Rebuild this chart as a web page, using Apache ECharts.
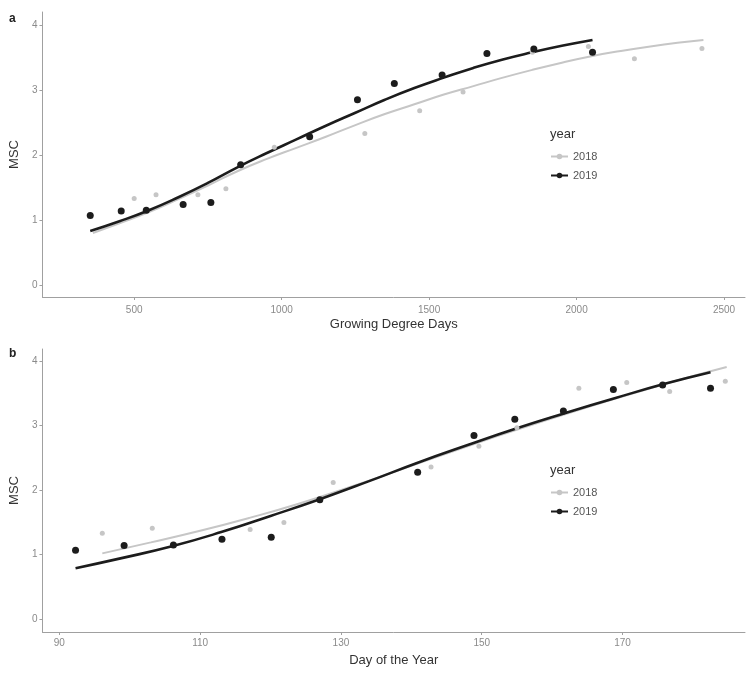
<!DOCTYPE html>
<html>
<head>
<meta charset="utf-8">
<script src="https://cdn.jsdelivr.net/npm/echarts@6/dist/echarts.min.js"></script>
<style>
  html, body { margin: 0; padding: 0; background: #fff; }
  #chart { width: 749px; height: 673px; }
</style>
</head>
<body>
<div id="chart"></div>
<script>
// ---------- Data ----------
const seriesNames = ['2018', '2019'];

// Panel a: Growing Degree Days
const gddPts2018 = [500, 574, 716, 811, 975, 1282, 1468, 1615, 1850, 2040, 2196, 2425];
const mscPts2018a = [1.33, 1.39, 1.39, 1.48, 2.12, 2.33, 2.68, 2.97, 3.58, 3.67, 3.48, 3.64];
const gddPts2019 = [351, 456, 541, 666, 760, 861, 1095, 1257, 1382, 1544, 1696, 1855, 2054];
const mscPts2019 = [1.07, 1.14, 1.15, 1.24, 1.27, 1.85, 2.28, 2.85, 3.10, 3.23, 3.56, 3.63, 3.58];

const gddFit2018 = [360, 450, 550, 650, 750, 850, 950, 1050, 1150, 1250, 1350, 1450, 1550, 1650, 1750, 1850, 1950, 2050, 2150, 2250, 2350, 2430];
const mscFit2018a = [0.80, 0.95, 1.12, 1.32, 1.53, 1.75, 1.94, 2.11, 2.28, 2.46, 2.63, 2.78, 2.93, 3.06, 3.19, 3.31, 3.42, 3.52, 3.60, 3.67, 3.73, 3.77];
const gddFit2019 = [351, 450, 550, 650, 750, 850, 950, 1050, 1150, 1250, 1350, 1450, 1550, 1650, 1750, 1850, 1950, 2054];
const mscFit2019a = [0.83, 0.98, 1.15, 1.35, 1.57, 1.81, 2.03, 2.24, 2.45, 2.65, 2.85, 3.03, 3.19, 3.34, 3.47, 3.58, 3.68, 3.77];

// Panel b: Day of the Year
const doyPts2018 = [96.1, 103.2, 117.1, 121.9, 128.9, 142.8, 149.6, 155.0, 163.8, 170.6, 176.7, 184.6];
const mscPts2018b = [1.33, 1.41, 1.39, 1.50, 2.12, 2.36, 2.68, 2.97, 3.58, 3.67, 3.53, 3.69];
const doyPts2019 = [92.3, 99.2, 106.2, 113.1, 120.1, 127.0, 140.9, 148.9, 154.7, 161.6, 168.7, 175.7, 182.5];

const doyFit2018 = [96.1, 103, 110, 117, 124, 131, 138, 145, 152, 159, 166, 173, 179, 184.8];
const mscFit2018b = [1.02, 1.19, 1.37, 1.57, 1.79, 2.04, 2.30, 2.57, 2.83, 3.08, 3.32, 3.55, 3.74, 3.91];
const doyFit2019 = [92.3, 99, 106, 113, 120, 127, 134, 141, 148, 155, 162, 169, 176, 182.5];
const mscFit2019b = [0.79, 0.95, 1.13, 1.35, 1.60, 1.86, 2.14, 2.43, 2.70, 2.96, 3.20, 3.43, 3.65, 3.83];

// Tick labels
const yTicks = [0, 1, 2, 3, 4];
const gddTicks = [500, 1000, 1500, 2000, 2500];
const doyTicks = [90, 110, 130, 150, 170];

// ---------- Helpers ----------
const zip = (xs, ys) => xs.map((x, i) => [x, ys[i]]);
const C2018 = '#c6c6c6';
const C2019 = '#1c1c1c';
const axisColor = '#a0a0a0';
const labelColor = '#8a8a8a';
const FONT = 'Liberation Sans, Arial, sans-serif';

function xAxisCfg(gridIndex, min, max, ticks, name, nameGap, labelMargin) {
  return {
    type: 'value', gridIndex, min, max,
    name, nameLocation: 'middle', nameGap,
    nameTextStyle: { fontFamily: FONT, fontSize: 13, color: '#333' },
    axisLine: { show: true, onZero: false, lineStyle: { color: axisColor, width: 1 } },
    axisTick: { show: true, length: 3, lineStyle: { color: axisColor }, customValues: ticks },
    axisLabel: { customValues: ticks, color: labelColor, fontSize: 10, margin: labelMargin,
                 fontFamily: FONT, formatter: v => String(v) },
    splitLine: { show: false }
  };
}
function yAxisCfg(gridIndex, min, max) {
  return {
    type: 'value', gridIndex, min, max,
    name: 'MSC', nameLocation: 'middle', nameGap: 12, nameRotate: 90,
    nameTextStyle: { fontFamily: FONT, fontSize: 13, color: '#333' },
    axisLine: { show: true, onZero: false, lineStyle: { color: axisColor, width: 1 } },
    axisTick: { show: true, length: 3, lineStyle: { color: axisColor }, customValues: yTicks },
    axisLabel: { customValues: yTicks, color: labelColor, fontSize: 10, margin: 5,
                 fontFamily: FONT, formatter: v => String(v) },
    splitLine: { show: false }
  };
}
function fitLine(name, data, xi, color, width, z, symSize) {
  return {
    type: 'line', name, data, xAxisIndex: xi, yAxisIndex: xi,
    smooth: 0.5, symbol: 'circle', symbolSize: symSize, showSymbol: false,
    lineStyle: { color, width }, itemStyle: { color }, z, silent: true
  };
}
function pts(name, data, xi, color, size, z) {
  return {
    type: 'scatter', name, data, xAxisIndex: xi, yAxisIndex: xi,
    symbol: 'circle', symbolSize: size, itemStyle: { color, opacity: 1 }, z, silent: true
  };
}
function legendCfg(top) {
  return {
    data: seriesNames, orient: 'vertical', left: 545, top,
    itemWidth: 17, itemHeight: 7, itemGap: 8, selectedMode: false,
    textStyle: { fontFamily: FONT, fontSize: 11, color: '#555' }
  };
}

const chart = echarts.init(document.getElementById('chart'), null, { renderer: 'canvas' });
chart.setOption({
  animation: false,
  backgroundColor: '#ffffff',
  grid: [
    { left: 41, top: 12, width: 704, height: 285 },
    { left: 41, top: 349, width: 704, height: 283 }
  ],
  xAxis: [
    xAxisCfg(0, 189, 2571, gddTicks, 'Growing Degree Days', 21, 8),
    xAxisCfg(1, 87.6, 187.4, doyTicks, 'Day of the Year', 22, 6)
  ],
  yAxis: [
    yAxisCfg(0, -0.185, 4.2),
    yAxisCfg(1, -0.2, 4.19)
  ],
  legend: [legendCfg(146), legendCfg(482)],
  graphic: [
    { type: 'text', left: 9, top: 13, style: { text: 'a', font: 'bold 12px ' + FONT, fill: '#222' } },
    { type: 'text', left: 9, top: 348, style: { text: 'b', font: 'bold 12px ' + FONT, fill: '#222' } },
    { type: 'text', left: 550, top: 128, style: { text: 'year', font: '13px ' + FONT, fill: '#333' } },
    { type: 'text', left: 550, top: 464, style: { text: 'year', font: '13px ' + FONT, fill: '#333' } }
  ],
  series: [
    fitLine('2018', zip(gddFit2018, mscFit2018a), 0, C2018, 2, 2, 5),
    fitLine('2019', zip(gddFit2019, mscFit2019a), 0, C2019, 2.6, 3, 7),
    pts('2018', zip(gddPts2018, mscPts2018a), 0, C2018, 5, 4),
    pts('2019', zip(gddPts2019, mscPts2019), 0, C2019, 7, 5),
    fitLine('2018', zip(doyFit2018, mscFit2018b), 1, C2018, 2, 2, 5),
    fitLine('2019', zip(doyFit2019, mscFit2019b), 1, C2019, 2.6, 3, 7),
    pts('2018', zip(doyPts2018, mscPts2018b), 1, C2018, 5, 4),
    pts('2019', zip(doyPts2019, mscPts2019), 1, C2019, 7, 5)
  ]
});
</script>
</body>
</html>
